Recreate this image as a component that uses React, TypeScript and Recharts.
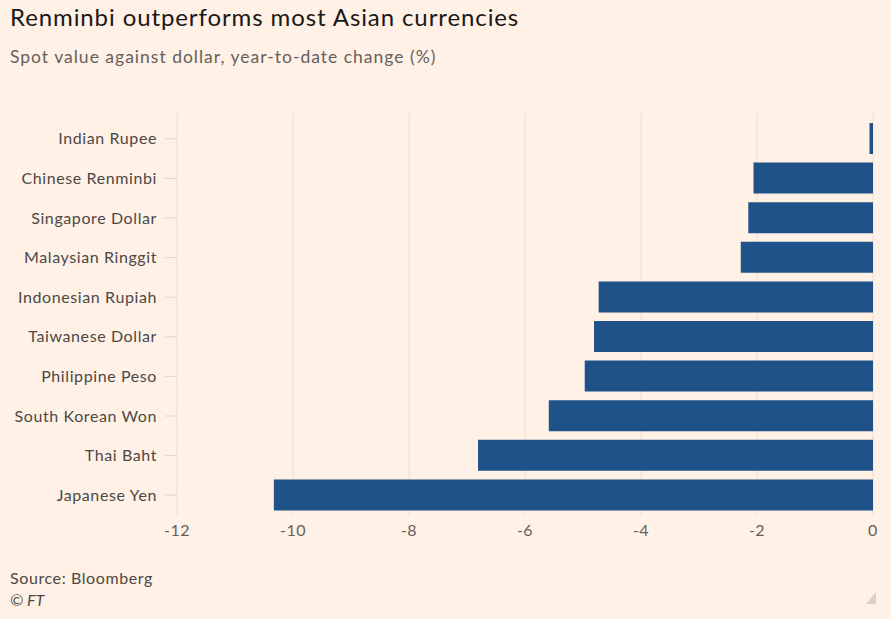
import { Bar, BarChart, CartesianGrid, XAxis, YAxis } from "recharts";

const currencies = [
  "Indian Rupee",
  "Chinese Renminbi",
  "Singapore Dollar",
  "Malaysian Ringgit",
  "Indonesian Rupiah",
  "Taiwanese Dollar",
  "Philippine Peso",
  "South Korean Won",
  "Thai Baht",
  "Japanese Yen",
];
const ytdChange = [-0.06, -2.06, -2.15, -2.28, -4.73, -4.81, -4.97, -5.59, -6.81, -10.33];
const xTicks = [-12, -10, -8, -6, -4, -2, 0];

const data = currencies.map((name, i) => ({ name, change: ytdChange[i] }));

const FONT = "Lato, 'Open Sans', sans-serif";
const BG = "#fff1e5";

export default function App() {
  return (
    <div
      style={{
        position: "absolute",
        top: 0,
        left: 0,
        width: 891,
        height: 619,
        background: BG,
        fontFamily: FONT,
        overflow: "hidden",
      }}
    >
      <div
        style={{
          position: "absolute",
          left: 10,
          top: 2,
          fontSize: 24,
          letterSpacing: 0.9,
          color: "#1a1817",
          whiteSpace: "nowrap",
        }}
      >
        Renminbi outperforms most Asian currencies
      </div>
      <div
        style={{
          position: "absolute",
          left: 10,
          top: 46,
          fontSize: 17.5,
          letterSpacing: 1,
          color: "#66605c",
          whiteSpace: "nowrap",
        }}
      >
        Spot value against dollar, year-to-date change (%)
      </div>
      <BarChart
        width={891}
        height={619}
        layout="vertical"
        data={data}
        margin={{ top: 113, right: 18, bottom: 74, left: 0 }}
      >
        <CartesianGrid horizontal={false} stroke="#e9ddd3" />
        <XAxis
          type="number"
          domain={[-12, 0]}
          ticks={xTicks}
          axisLine={false}
          tickLine={false}
          tickSize={0}
          tickMargin={10}
          tick={{ fill: "#66605c", fontSize: 16, fontFamily: FONT, letterSpacing: 0.5 }}
          height={30}
        />
        <YAxis
          type="category"
          dataKey="name"
          width={177}
          axisLine={false}
          tickSize={12}
          tickMargin={8}
          tickLine={{ stroke: "#e2d5ca" }}
          padding={{ top: 6, bottom: 0 }}
          tick={{ fill: "#4d4845", fontSize: 16, fontFamily: FONT, letterSpacing: 0.6 }}
          interval={0}
        />
        <Bar dataKey="change" fill="#1f5289" barSize={31} isAnimationActive={false} />
      </BarChart>
      <div
        style={{
          position: "absolute",
          left: 10,
          top: 568,
          fontSize: 16,
          letterSpacing: 0.6,
          color: "#4d4845",
        }}
      >
        Source: Bloomberg
      </div>
      <div
        style={{
          position: "absolute",
          left: 10,
          top: 590,
          fontSize: 16,
          color: "#4d4845",
          fontStyle: "italic",
        }}
      >
        © FT
      </div>
      <svg style={{ position: "absolute", left: 866, top: 592 }} width={10} height={12}>
        <polygon points="10,0 10,12 0,12" fill="#d9d2cc" />
      </svg>
    </div>
  );
}
